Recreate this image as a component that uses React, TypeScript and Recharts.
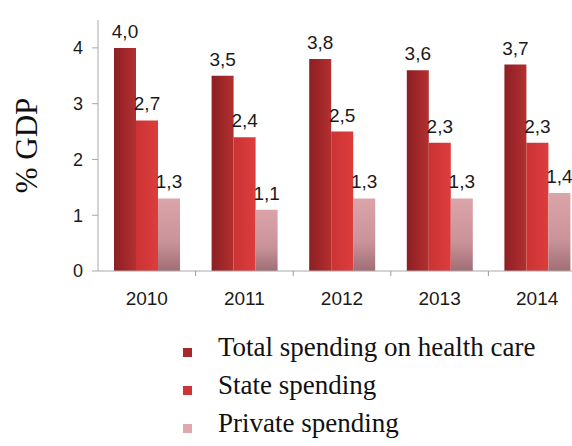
import React from "react";
import {
  BarChart,
  Bar,
  XAxis,
  YAxis,
  Legend,
  LabelList,
} from "recharts";

const years = ["2010", "2011", "2012", "2013", "2014"];
const totalSpending = [4.0, 3.5, 3.8, 3.6, 3.7];
const stateSpending = [2.7, 2.4, 2.5, 2.3, 2.3];
const privateSpending = [1.3, 1.1, 1.3, 1.3, 1.4];
const yTicks = [0, 1, 2, 3, 4];

const seriesOrder = ["total", "state", "private"];
const seriesNames: Record<string, string> = {
  total: "Total spending on health care",
  state: "State spending",
  private: "Private spending",
};

const legendColors: Record<string, string> = {
  total: "#a8272b",
  state: "#cf3434",
  private: "#dfa8ac",
};

const data = years.map((year, i) => ({
  year,
  total: totalSpending[i],
  state: stateSpending[i],
  private: privateSpending[i],
}));

const sans = "'Liberation Sans', Arial, sans-serif";
const serif = "'Liberation Serif', 'Times New Roman', serif";

const fmt = (v: any) => Number(v).toFixed(1).replace(".", ",");

const YearTick = (props: any) => {
  const { x, y, payload, width, visibleTicksCount } = props;
  const half = width / visibleTicksCount / 2;
  return (
    <g>
      <line x1={x + half} x2={x + half} y1={y - 8} y2={y - 3} stroke="#9a9a9a" />
      <text x={x} y={y + 26} textAnchor="middle" fontSize={19} fontFamily={sans} fill="#1a1a1a">
        {payload.value}
      </text>
    </g>
  );
};

const GdpLabel = (props: any) => {
  const { viewBox } = props;
  const cx = viewBox.x + 26;
  const cy = viewBox.y + viewBox.height / 2;
  return (
    <text
      x={cx}
      y={cy}
      transform={`rotate(-90, ${cx}, ${cy})`}
      textAnchor="middle"
      dominantBaseline="central"
      fontSize={31}
      fontFamily={serif}
      fill="#111"
    >
      % GDP
    </text>
  );
};

const LegendBox = (props: any) => {
  const items = props.payload || [];
  const ordered = seriesOrder
    .map((key) => items.find((it: any) => it.dataKey === key))
    .filter(Boolean);
  return (
    <svg width={572} height={135} style={{ display: "block" }}>
      {ordered.map((item: any, i: number) => (
        <g key={item.dataKey}>
          <rect x={183} y={37 + i * 38} width={9} height={9} fill={legendColors[item.dataKey]} />
          <text x={218} y={45 + i * 38} fontSize={27} fontFamily={serif} fill="#111">
            {item.value}
          </text>
        </g>
      ))}
    </svg>
  );
};

export default function App() {
  return (
    <div
      style={{
        position: "absolute",
        left: 0,
        top: 0,
        width: 572,
        height: 446,
        overflow: "hidden",
        background: "#fff",
      }}
    >
      <BarChart
        width={600}
        height={446}
        data={data}
        margin={{ top: 20, right: 14, left: 0, bottom: 0 }}
        barCategoryGap={16}
        barGap={0}
      >
        <defs>
          <linearGradient id="gTotal" x1="0" y1="0" x2="1" y2="0">
            <stop offset="0%" stopColor="#8c2024" />
            <stop offset="45%" stopColor="#9e2629" />
            <stop offset="100%" stopColor="#b3302f" />
          </linearGradient>
          <linearGradient id="gState" x1="0" y1="0" x2="1" y2="0">
            <stop offset="0%" stopColor="#cc3335" />
            <stop offset="100%" stopColor="#dc3d3c" />
          </linearGradient>
          <linearGradient id="gPrivate" x1="0" y1="0" x2="0" y2="1">
            <stop offset="0%" stopColor="#dba4a9" />
            <stop offset="60%" stopColor="#c99399" />
            <stop offset="100%" stopColor="#a06e75" />
          </linearGradient>
        </defs>
        <XAxis
          dataKey="year"
          height={40}
          axisLine={{ stroke: "#a8a8a8" }}
          tickLine={false}
          tick={<YearTick />}
        />
        <YAxis
          width={98}
          domain={[0, 4.5]}
          ticks={yTicks}
          axisLine={{ stroke: "#a8a8a8" }}
          tickLine={{ stroke: "#a8a8a8" }}
          tickSize={6}
          tickMargin={9}
          tick={{ fontSize: 18, fontFamily: sans, fill: "#1a1a1a" }}
          label={<GdpLabel />}
        />
        <Legend verticalAlign="bottom" align="left" wrapperStyle={{ left: 0, width: 572 }} content={<LegendBox />} />
        <Bar dataKey="total" name={seriesNames.total} fill="url(#gTotal)" isAnimationActive={false}>
          <LabelList dataKey="total" position="top" offset={10} formatter={fmt} fontSize={19} fontFamily={sans} fill="#1a1a1a" />
        </Bar>
        <Bar dataKey="state" name={seriesNames.state} fill="url(#gState)" isAnimationActive={false}>
          <LabelList dataKey="state" position="top" offset={10} formatter={fmt} fontSize={19} fontFamily={sans} fill="#1a1a1a" />
        </Bar>
        <Bar dataKey="private" name={seriesNames.private} fill="url(#gPrivate)" isAnimationActive={false}>
          <LabelList dataKey="private" position="top" offset={10} formatter={fmt} fontSize={19} fontFamily={sans} fill="#1a1a1a" />
        </Bar>
      </BarChart>
    </div>
  );
}
